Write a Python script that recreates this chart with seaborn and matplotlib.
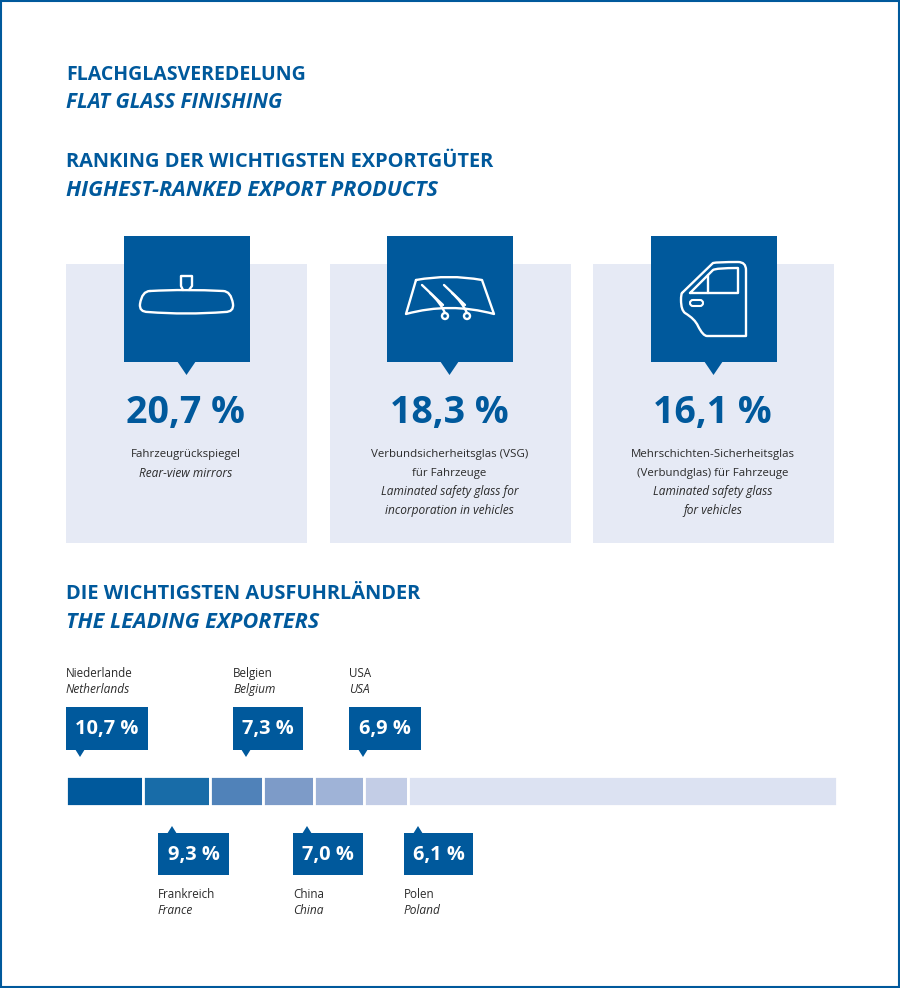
import matplotlib
matplotlib.use("Agg")
import matplotlib.pyplot as plt
from matplotlib.patches import Rectangle, Polygon, PathPatch, Circle, FancyBboxPatch
from matplotlib.path import Path
import seaborn as sns

# product ranking
products_pct = ["20,7 %", "18,3 %", "16,1 %"]
products_de = [
    ["Fahrzeugrückspiegel"],
    ["Verbundsicherheitsglas (VSG)", "für Fahrzeuge"],
    ["Mehrschichten-Sicherheitsglas", "(Verbundglas) für Fahrzeuge"],
]
products_en = [
    ["Rear-view mirrors"],
    ["Laminated safety glass for", "incorporation in vehicles"],
    ["Laminated safety glass", "for vehicles"],
]

# exporters, last value is the rest of the bar
countries_de = ["Niederlande", "Frankreich", "Belgien", "China", "USA", "Polen"]
countries_en = ["Netherlands", "France", "Belgium", "China", "USA", "Poland"]
shares = [10.7, 9.3, 7.3, 7.0, 6.9, 6.1, 59.4]
share_labels = ["10,7 %", "9,3 %", "7,3 %", "7,0 %", "6,9 %", "6,1 %"]

BLUE = "#00599C"
CARD = "#E6EAF5"
TEXT = "#2B2B2B"
segment_colors = ["#00599C", "#186CA8", "#5082B9", "#7D9BC8", "#9FB3D7", "#C3CDE6", "#DCE2F2"]

sns.set_theme(style="white")
plt.rcParams["font.family"] = ["Open Sans", "DejaVu Sans"]

fig = plt.figure(figsize=(9, 9.88), dpi=100)
ax = fig.add_axes([0, 0, 1, 1])
ax.set_xlim(0, 900)
ax.set_ylim(988, 0)
ax.axis("off")

ax.add_patch(Rectangle((1, 1), 898, 986, fill=False, edgecolor=BLUE, linewidth=1.5))


def heading(y, de, en, size_de=14.45, size_en=15.6):
    ax.text(66, y, de, color=BLUE, fontsize=size_de, fontweight="bold", va="center")
    ax.text(66, y + 28, en, color=BLUE, fontsize=size_en, fontweight="bold", style="italic", va="center")


heading(75, "FLACHGLASVEREDELUNG", "FLAT GLASS FINISHING", size_de=14, size_en=14.9)
heading(162, "RANKING DER WICHTIGSTEN EXPORTGÜTER", "HIGHEST-RANKED EXPORT PRODUCTS")
heading(594, "DIE WICHTIGSTEN AUSFUHRLÄNDER", "THE LEADING EXPORTERS")


def icon_line(verts, codes=None, closed=False):
    if codes is None:
        codes = [Path.MOVETO] + [Path.LINETO] * (len(verts) - 1)
    if closed:
        verts = verts + [verts[0]]
        codes = codes + [Path.CLOSEPOLY]
    ax.add_patch(PathPatch(Path(verts, codes), fill=False, edgecolor="white", linewidth=1.7,
                           joinstyle="round", capstyle="round", zorder=4))


C3 = Path.CURVE3
L = Path.LINETO
M = Path.MOVETO


def mirror_icon():
    icon_line([(150, 291), (186, 289), (223, 291), (231, 291), (233, 304), (234, 312), (225, 312),
               (186, 315), (148, 312), (139, 312), (140, 304), (142, 291), (150, 291)],
              [M, C3, C3, C3, C3, C3, C3, C3, C3, C3, C3, C3, C3])
    icon_line([(183, 290), (181, 286), (181, 276), (192, 276), (192, 286), (189, 290)])


def wiper_icon():
    icon_line([(416, 280), (449, 274), (482, 280), (494, 314), (450, 302), (406, 314), (416, 280)],
              [M, C3, C3, L, C3, C3, L])
    for x0 in (422, 444):
        icon_line([(x0, 285), (x0 + 21, 305)])
        icon_line([(x0 + 8, 293), (x0 + 18, 302), (x0 + 23, 313)], [M, C3, C3])
        ax.add_patch(Circle((x0 + 23, 316), 3, fill=False, edgecolor="white", linewidth=1.7, zorder=4))


def door_icon():
    icon_line([(682, 293), (713, 263), (717, 262), (738, 262), (746, 262), (746, 270), (746, 336),
               (707, 336), (703, 336), (698, 326), (695, 319), (685, 313), (681, 310), (681, 300),
               (681, 294), (682, 293)],
              [M, L, C3, L, C3, C3, L, L, C3, C3, C3, C3, C3, L, C3, C3])
    icon_line([(690, 293), (713, 270), (716, 268), (738, 268), (738, 293), (690, 293)],
              [M, L, C3, L, L, L])
    icon_line([(708, 275), (708, 293)])
    ax.add_patch(FancyBboxPatch((690, 300), 13, 6, boxstyle="round,pad=0,rounding_size=3", fill=False,
                                edgecolor="white", linewidth=1.5, zorder=4))


# cards: left edge of card, left edge of blue square
card_lefts = [66, 330, 593]
square_lefts = [124, 387, 651]
for i in range(3):
    ax.add_patch(Rectangle((card_lefts[i], 264), 241, 279, facecolor=CARD, edgecolor="none", zorder=1))
    sq = square_lefts[i]
    ax.add_patch(Rectangle((sq, 236), 125.5, 126, facecolor=BLUE, edgecolor="none", zorder=2))
    mid = sq + 62.5
    ax.add_patch(Polygon([(mid - 9.5, 361), (mid + 9.5, 361), (mid, 375)], facecolor=BLUE,
                         edgecolor="none", zorder=2))
    centre = card_lefts[i] + 119.5
    ax.text(centre, 413, products_pct[i], color=BLUE, fontsize=27, fontweight="bold",
            ha="center", va="center", zorder=3)
    y = 454.5
    for line in products_de[i]:
        ax.text(centre, y, line, color=TEXT, fontsize=8.25, ha="center", va="center", zorder=3)
        y += 18.5
    for line in products_en[i]:
        ax.text(centre, y, line, color=TEXT, fontsize=8.6, style="italic", ha="center", va="center", zorder=3)
        y += 18.5

mirror_icon()
wiper_icon()
door_icon()

# stacked bar
bar_ax = fig.add_axes([65.5 / 900, 1 - 806 / 988, 772 / 900, 30.5 / 988])
start = 0
for value, color in zip(shares, segment_colors):
    sns.barplot(x=[value], y=[0], orient="h", left=start, color=color, saturation=1, width=1,
                edgecolor="white", linewidth=2, ax=bar_ax)
    start += value
bar_ax.set_xlim(0, sum(shares))
bar_ax.axis("off")

# callouts: box left, box right, tip x, above or below the bar
callouts = [
    (66, 148, 80, True),
    (158, 229, 172, False),
    (233, 303, 246, True),
    (293, 363, 307, False),
    (349, 421, 363, True),
    (404, 473, 418, False),
]
for i, (x0, x1, tip, above) in enumerate(callouts):
    top, bottom = (707, 750) if above else (833, 875)
    ax.add_patch(Rectangle((x0, top), x1 - x0, bottom - top, facecolor=BLUE, edgecolor="none", zorder=2))
    if above:
        tri = [(tip - 5, 749), (tip + 5, 749), (tip, 757)]
        ax.text(x0, 673.5, countries_de[i], color=TEXT, fontsize=8.4, va="center")
        ax.text(x0, 689.5, countries_en[i], color=TEXT, fontsize=8.6, style="italic", va="center")
    else:
        tri = [(tip - 5, 834), (tip + 5, 834), (tip, 826)]
        ax.text(x0, 894, countries_de[i], color=TEXT, fontsize=8.4, va="center")
        ax.text(x0, 910, countries_en[i], color=TEXT, fontsize=8.6, style="italic", va="center")
    ax.add_patch(Polygon(tri, facecolor=BLUE, edgecolor="none", zorder=2))
    ax.text((x0 + x1) / 2, (top + bottom) / 2 + 0.5, share_labels[i], color="white", fontsize=14.4,
            fontweight="bold", ha="center", va="center", zorder=3)

fig.savefig("out.png", dpi=100)
plt.close(fig)
